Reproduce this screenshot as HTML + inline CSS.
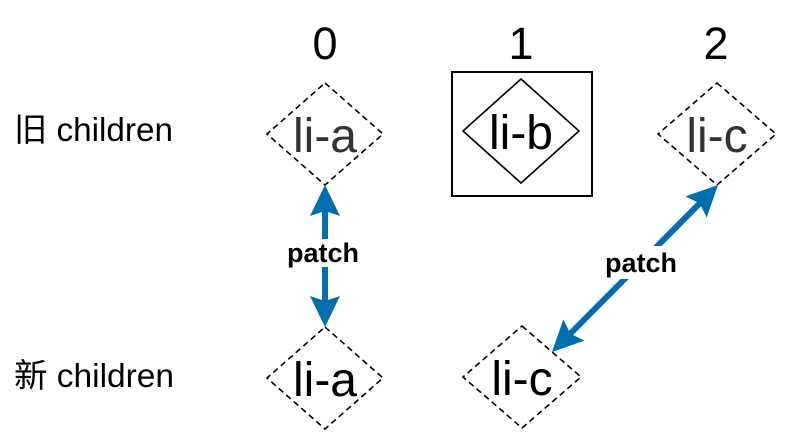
<!DOCTYPE html>
<html>
<head>
<meta charset="utf-8">
<style>
html,body{margin:0;padding:0;background:#fff;}
svg{display:block;}
</style>
</head>
<body>
<svg width="786" height="440" viewBox="0 0 786 440" xmlns="http://www.w3.org/2000/svg">
  <rect width="786" height="440" fill="#fff"/>
  <!-- column indices -->
  <g font-family="'Liberation Sans', Arial, sans-serif" font-size="45" fill="#000" text-anchor="middle">
    <text x="325" y="59">0</text>
    <text x="521" y="59">1</text>
    <text x="716" y="59">2</text>
  </g>
  <!-- row labels -->
  <g font-family="'Liberation Sans', 'Noto Sans CJK SC', sans-serif" font-size="33" fill="#000">
    <text x="14" y="141" textLength="159" lengthAdjust="spacingAndGlyphs">旧 children</text>
    <text x="14" y="387" textLength="160" lengthAdjust="spacingAndGlyphs">新 children</text>
  </g>

  <!-- dashed diamonds -->
  <g fill="none" stroke="#000" stroke-width="1.6" stroke-dasharray="6 4">
    <polygon points="325,83 383,134 325,185 267,134"/>
    <polygon points="717,83 776,134 717,185 658,134"/>
    <polygon points="325,327 383,378 325,429 267,378"/>
    <polygon points="522,326 581,377 522,428 463,377"/>
  </g>

  <!-- box with solid diamond -->
  <rect x="452" y="72" width="140" height="124" fill="none" stroke="#000" stroke-width="2"/>
  <polygon points="521,79 579,131 521,183 463,131" fill="none" stroke="#000" stroke-width="1.6"/>

  <!-- node labels -->
  <g font-family="'Liberation Sans', Arial, sans-serif" font-size="48" text-anchor="middle">
    <text x="325" y="152" fill="#333">li-a</text>
    <text x="521" y="149" fill="#000">li-b</text>
    <text x="717" y="152" fill="#333">li-c</text>
    <text x="325" y="396" fill="#000">li-a</text>
    <text x="522" y="395" fill="#000">li-c</text>
  </g>

  <!-- vertical patch arrow -->
  <line x1="325" y1="210" x2="325" y2="302" stroke="#006EAF" stroke-width="6"/>
  <polygon points="325,185 340,216 325,211 310,216" fill="#006EAF"/>
  <polygon points="325,327 340,296 325,301 310,296" fill="#006EAF"/>
  <rect x="285" y="239" width="78" height="28" fill="#fff"/>
  <text x="323" y="262" font-family="'Liberation Sans', Arial, sans-serif" font-size="27" font-weight="bold" text-anchor="middle" fill="#000">patch</text>

  <!-- diagonal patch arrow -->
  <line x1="699.7" y1="203.4" x2="570.3" y2="333.6" stroke="#006EAF" stroke-width="6"/>
  <polygon points="718,185 706.7,217.6 699.7,203.4 685.5,196.4" fill="#006EAF"/>
  <polygon points="552,352 584.5,340.6 570.3,333.6 563.3,319.4" fill="#006EAF"/>
  <rect x="602" y="246" width="78" height="33" fill="#fff"/>
  <text x="641" y="272" font-family="'Liberation Sans', Arial, sans-serif" font-size="27" font-weight="bold" text-anchor="middle" fill="#000">patch</text>
</svg>
</body>
</html>
